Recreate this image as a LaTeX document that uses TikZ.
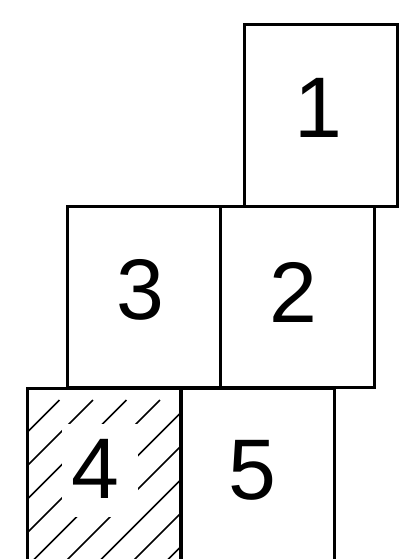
\documentclass[tikz,border=0pt]{standalone}
\usepackage{fontspec}
\setmainfont{Liberation Sans}
\tikzset{
  blk/.style={draw=black, line width=3pt, rectangle, minimum width=153.5pt, minimum height=181pt, inner sep=0pt, anchor=north west},
  digit/.style={inner sep=0pt, font=\fontsize{86}{86}\selectfont},
  hatchline/.style={line width=1.5pt, black}
}
\begin{document}
\begin{tikzpicture}[x=1pt,y=-1pt]
\useasboundingbox (0,0) rectangle (401,559);
% hatching of box 4
\begin{scope}
  \clip (26,386.7) rectangle (179,568);
  \foreach \k in {0,...,10} {
    \pgfmathsetmacro{\c}{426+33.5*\k}
    \draw[hatchline] (\c-400,400) -- (\c-700,700);
  }
\end{scope}
\fill[white] (62,424) rectangle (138,517);
% boxes
\node[blk] (b1) at (242.5,23.5) {};
\node[blk] (b3) at (65.5,205) {};
\node[blk] (b2) at (219.2,205) {};
\node[blk] (b4) at (26,386.7) {};
\node[blk] (b5) at (179.2,386.7) {};
% labels
\node[digit] (t1) at (318,108) {1};
\node[digit] (t3) at (140,290) {3};
\node[digit] (t2) at (293,292) {2};
\node[digit] (t4) at (95,469) {4};
\node[digit] (t5) at (252,470) {5};
\end{tikzpicture}
\end{document}
